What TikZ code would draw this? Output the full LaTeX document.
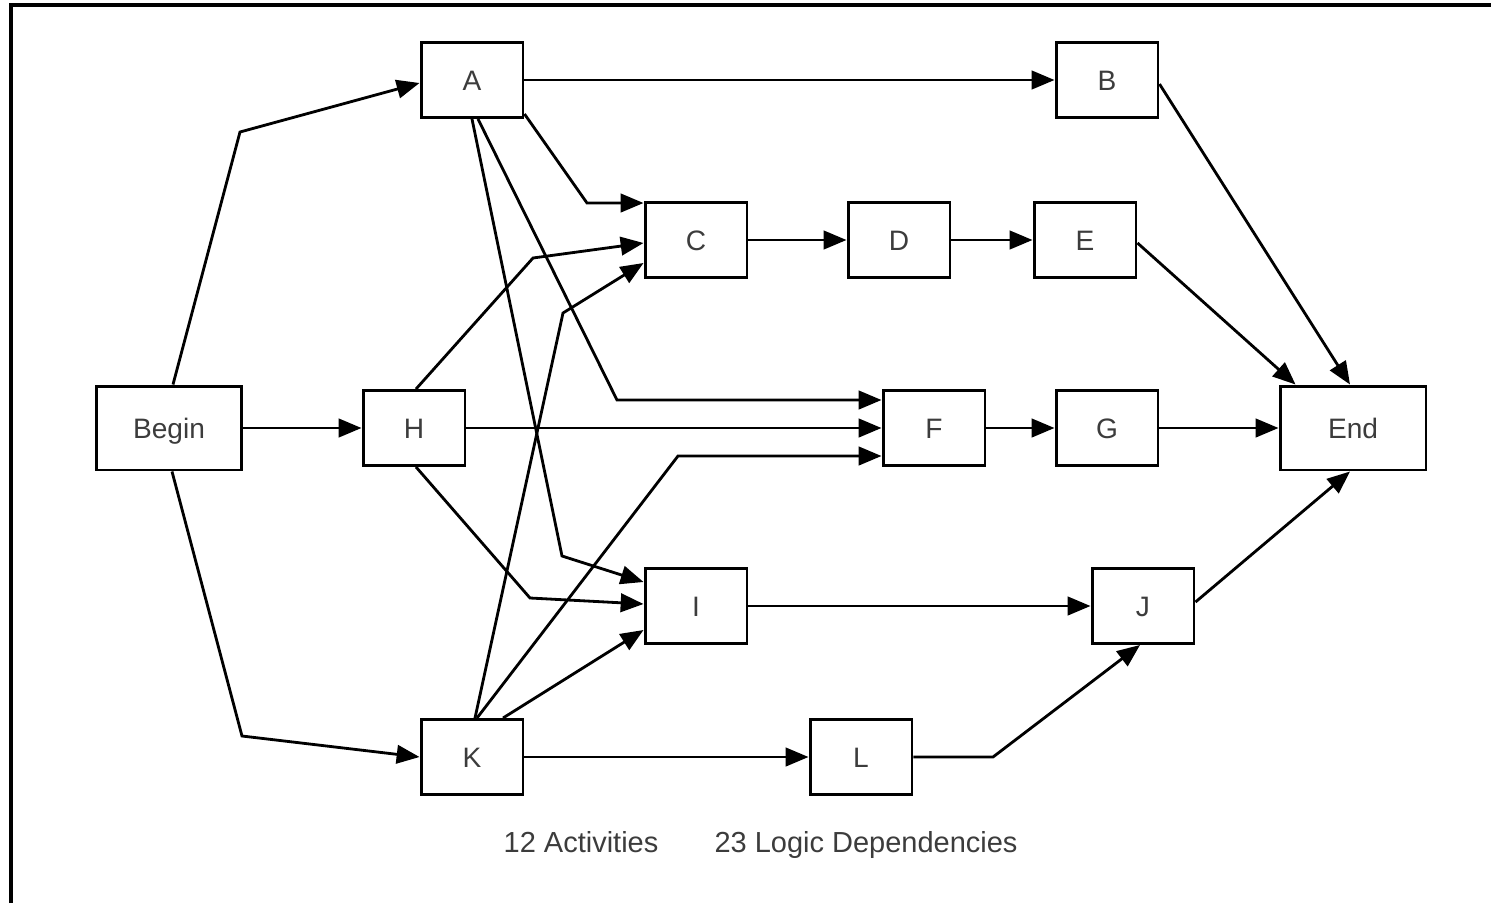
\documentclass[tikz,border=0pt]{standalone}
\usepackage{fontspec}
\setmainfont{Liberation Sans}
\usetikzlibrary{arrows.meta,calc}
\definecolor{txt}{HTML}{3C3C3C}
\begin{document}
\begin{tikzpicture}[x=0.02cm,y=-0.02cm,
  box/.style={draw, line width=1.7pt, minimum width=2.04cm, minimum height=1.5cm, inner sep=0pt, text height=11.5pt, text depth=0pt, font=\fontsize{16}{19}\selectfont, text=txt},
  bigbox/.style={box, minimum width=2.92cm, minimum height=1.68cm},
  link/.style={line width=1.6pt, -{Triangle[length=13pt,width=10.5pt]}},
  note/.style={anchor=base, font=\fontsize{16.5}{19}\selectfont, text=txt},
  frame/.style={line width=2.3pt}]
\path[use as bounding box] (0,0) rectangle (1491,903);
\draw[frame] (11,903) -- (11,5) -- (1491,5);

\node[bigbox] (Begin) at (169,428) {Begin};
\node[box] (A) at (472,80) {A};
\node[box] (B) at (1107,80) {B};
\node[box] (C) at (696,240) {C};
\node[box] (D) at (899,240) {D};
\node[box] (E) at (1085,240) {E};
\node[box] (H) at (414,428) {H};
\node[box] (F) at (934,428) {F};
\node[box] (G) at (1107,428) {G};
\node[bigbox] (End) at (1353,428) {End};
\node[box] (I) at (696,606) {I};
\node[box] (J) at (1143,606) {J};
\node[box] (K) at (472,757) {K};
\node[box] (L) at (861,757) {L};

\node[note] (acts) at (581,852) {12 Activities};
\node[note] (deps) at (866,852) {23 Logic Dependencies};

% from Begin
\draw[link] ($(Begin.north)+(4,0)$) -- (240,132) -- ($(A.west)+(0,3)$);
\draw[link] (Begin.east) -- (H.west);
\draw[link] ($(Begin.south)+(3,0)$) -- (242,736) -- (K.west);
% from A
\draw[link] (A.east) -- (B.west);
\draw[link] ($(A.south east)+(0,-5)$) -- (587,203) -- ($(C.north west)+(0,2)$);
\draw[link] ($(A.south)+(6,0)$) -- (617,400) -- ($(F.west)+(0,-28)$);
\draw[link] ($(A.south)+(0,0)$) -- (562,556) -- ($(I.west)+(0,-24)$);
% from H
\draw[link] ($(H.north)+(2,0)$) -- (533,258) -- ($(C.west)+(0,3)$);
\draw[link] (H.east) -- (F.west);
\draw[link] ($(H.south)+(2,0)$) -- (530,598) -- ($(I.west)+(0,-2)$);
% from K
\draw[link] ($(K.north)+(3,0)$) -- (563,313) -- ($(C.west)+(0,23)$);
\draw[link] ($(K.north)+(5,0)$) -- (678,456) -- ($(F.west)+(0,28)$);
\draw[link] ($(K.north)+(31,0)$) -- ($(I.west)+(0,24)$);
\draw[link] (K.east) -- (L.west);
% chains
\draw[link] (C.east) -- (D.west);
\draw[link] (D.east) -- (E.west);
\draw[link] (F.east) -- (G.west);
\draw[link] (G.east) -- (End.west);
\draw[link] (I.east) -- (J.west);
\draw[link] (L.east) -- (993,757) -- ($(J.south)+(-3,0)$);
% to End
\draw[link] ($(B.east)+(0,4)$) -- ($(End.north)+(-3,0)$);
\draw[link] ($(E.east)+(0,3)$) -- ($(End.north west)+(17,0)$);
\draw[link] ($(J.east)+(0,-4)$) -- ($(End.south)+(-3,0)$);
\end{tikzpicture}
\end{document}
